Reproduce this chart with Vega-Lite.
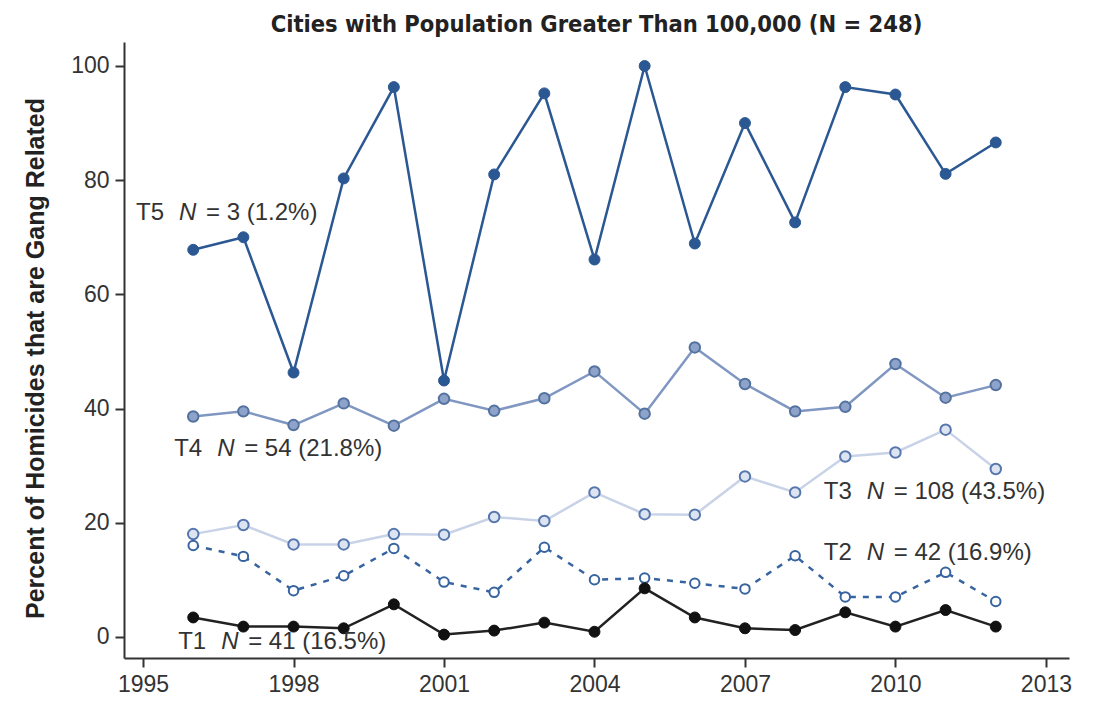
{
  "$schema": "https://vega.github.io/schema/vega-lite/v6.json",
  "width": 945,
  "height": 616,
  "autosize": {"type": "none"},
  "padding": {"left": 124, "top": 42, "right": 35, "bottom": 43},
  "background": "white",
  "config": {
    "view": {"stroke": null},
    "font": "Liberation Sans",
    "axis": {"grid": false}
  },
  "title": {
    "text": "Cities with Population Greater Than 100,000 (N = 248)",
    "font": "DejaVu Sans Condensed, Liberation Sans",
    "fontWeight": "bold",
    "fontSize": 23.5,
    "color": "#222222",
    "anchor": "middle",
    "offset": 6
  },
  "datasets": {
    "series": [
      {"tier": "T5", "year": 1996, "pct": 67.8}, {"tier": "T5", "year": 1997, "pct": 70.0}, {"tier": "T5", "year": 1998, "pct": 46.3}, {"tier": "T5", "year": 1999, "pct": 80.3}, {"tier": "T5", "year": 2000, "pct": 96.3}, {"tier": "T5", "year": 2001, "pct": 44.9}, {"tier": "T5", "year": 2002, "pct": 81.0}, {"tier": "T5", "year": 2003, "pct": 95.2}, {"tier": "T5", "year": 2004, "pct": 66.1}, {"tier": "T5", "year": 2005, "pct": 100.0}, {"tier": "T5", "year": 2006, "pct": 68.9}, {"tier": "T5", "year": 2007, "pct": 90.0}, {"tier": "T5", "year": 2008, "pct": 72.6}, {"tier": "T5", "year": 2009, "pct": 96.3}, {"tier": "T5", "year": 2010, "pct": 95.0}, {"tier": "T5", "year": 2011, "pct": 81.1}, {"tier": "T5", "year": 2012, "pct": 86.6},
      {"tier": "T4", "year": 1996, "pct": 38.6}, {"tier": "T4", "year": 1997, "pct": 39.5}, {"tier": "T4", "year": 1998, "pct": 37.1}, {"tier": "T4", "year": 1999, "pct": 40.9}, {"tier": "T4", "year": 2000, "pct": 37.0}, {"tier": "T4", "year": 2001, "pct": 41.7}, {"tier": "T4", "year": 2002, "pct": 39.6}, {"tier": "T4", "year": 2003, "pct": 41.8}, {"tier": "T4", "year": 2004, "pct": 46.5}, {"tier": "T4", "year": 2005, "pct": 39.1}, {"tier": "T4", "year": 2006, "pct": 50.7}, {"tier": "T4", "year": 2007, "pct": 44.3}, {"tier": "T4", "year": 2008, "pct": 39.5}, {"tier": "T4", "year": 2009, "pct": 40.3}, {"tier": "T4", "year": 2010, "pct": 47.8}, {"tier": "T4", "year": 2011, "pct": 41.9}, {"tier": "T4", "year": 2012, "pct": 44.1},
      {"tier": "T3", "year": 1996, "pct": 18.0}, {"tier": "T3", "year": 1997, "pct": 19.6}, {"tier": "T3", "year": 1998, "pct": 16.2}, {"tier": "T3", "year": 1999, "pct": 16.2}, {"tier": "T3", "year": 2000, "pct": 18.0}, {"tier": "T3", "year": 2001, "pct": 17.9}, {"tier": "T3", "year": 2002, "pct": 21.0}, {"tier": "T3", "year": 2003, "pct": 20.3}, {"tier": "T3", "year": 2004, "pct": 25.3}, {"tier": "T3", "year": 2005, "pct": 21.5}, {"tier": "T3", "year": 2006, "pct": 21.4}, {"tier": "T3", "year": 2007, "pct": 28.1}, {"tier": "T3", "year": 2008, "pct": 25.3}, {"tier": "T3", "year": 2009, "pct": 31.6}, {"tier": "T3", "year": 2010, "pct": 32.3}, {"tier": "T3", "year": 2011, "pct": 36.3}, {"tier": "T3", "year": 2012, "pct": 29.4},
      {"tier": "T2", "year": 1996, "pct": 16.0}, {"tier": "T2", "year": 1997, "pct": 14.1}, {"tier": "T2", "year": 1998, "pct": 8.1}, {"tier": "T2", "year": 1999, "pct": 10.7}, {"tier": "T2", "year": 2000, "pct": 15.5}, {"tier": "T2", "year": 2001, "pct": 9.6}, {"tier": "T2", "year": 2002, "pct": 7.8}, {"tier": "T2", "year": 2003, "pct": 15.7}, {"tier": "T2", "year": 2004, "pct": 10.0}, {"tier": "T2", "year": 2005, "pct": 10.3}, {"tier": "T2", "year": 2006, "pct": 9.4}, {"tier": "T2", "year": 2007, "pct": 8.4}, {"tier": "T2", "year": 2008, "pct": 14.2}, {"tier": "T2", "year": 2009, "pct": 7.0}, {"tier": "T2", "year": 2010, "pct": 7.0}, {"tier": "T2", "year": 2011, "pct": 11.3}, {"tier": "T2", "year": 2012, "pct": 6.2},
      {"tier": "T1", "year": 1996, "pct": 3.4}, {"tier": "T1", "year": 1997, "pct": 1.8}, {"tier": "T1", "year": 1998, "pct": 1.8}, {"tier": "T1", "year": 1999, "pct": 1.5}, {"tier": "T1", "year": 2000, "pct": 5.7}, {"tier": "T1", "year": 2001, "pct": 0.4}, {"tier": "T1", "year": 2002, "pct": 1.1}, {"tier": "T1", "year": 2003, "pct": 2.5}, {"tier": "T1", "year": 2004, "pct": 0.9}, {"tier": "T1", "year": 2005, "pct": 8.5}, {"tier": "T1", "year": 2006, "pct": 3.4}, {"tier": "T1", "year": 2007, "pct": 1.5}, {"tier": "T1", "year": 2008, "pct": 1.2}, {"tier": "T1", "year": 2009, "pct": 4.3}, {"tier": "T1", "year": 2010, "pct": 1.8}, {"tier": "T1", "year": 2011, "pct": 4.7}, {"tier": "T1", "year": 2012, "pct": 1.8}
    ],
    "labels": [
      {"tier": "T5", "x": 1994.86, "y": 74.3, "rest": "= 3 (1.2%)"},
      {"tier": "T4", "x": 1995.62, "y": 32.9, "rest": "= 54 (21.8%)"},
      {"tier": "T3", "x": 2008.57, "y": 25.4, "rest": "= 108 (43.5%)"},
      {"tier": "T2", "x": 2008.57, "y": 14.7, "rest": "= 42 (16.9%)"},
      {"tier": "T1", "x": 1995.70, "y": -0.9, "rest": "= 41 (16.5%)"}
    ]
  },
  "encoding": {
    "x": {
      "field": "year", "type": "quantitative",
      "scale": {"domain": [1994.62, 2013.46], "nice": false, "zero": false},
      "axis": {
        "title": null, "values": [1995, 1998, 2001, 2004, 2007, 2010, 2013], "format": "d",
        "domainColor": "#333333", "domainWidth": 2, "tickColor": "#333333", "tickWidth": 2, "tickSize": 9,
        "labelFontSize": 23, "labelColor": "#333333", "labelPadding": 6, "labelFont": "Liberation Sans"
      }
    },
    "y": {
      "field": "pct", "type": "quantitative",
      "scale": {"domain": [-3.7, 104.2], "nice": false, "zero": false},
      "axis": {
        "title": "Percent of Homicides that are Gang Related",
        "titleFont": "Liberation Sans", "titleFontWeight": "bold", "titleFontSize": 25, "titleColor": "#222222",
        "titleAngle": -90, "titleBaseline": "middle", "titleAlign": "center", "titleX": -89, "titleY": 316,
        "values": [0, 20, 40, 60, 80, 100],
        "domainColor": "#333333", "domainWidth": 2, "tickColor": "#333333", "tickWidth": 2, "tickSize": 9,
        "labelFontSize": 23, "labelColor": "#333333", "labelPadding": 6, "labelFont": "Liberation Sans"
      }
    }
  },
  "layer": [
    {"data": {"name": "series"}, "transform": [{"filter": "datum.tier == 'T3'"}],
     "mark": {"type": "line", "color": "#c9d3e7", "strokeWidth": 2.5}},
    {"data": {"name": "series"}, "transform": [{"filter": "datum.tier == 'T3'"}],
     "mark": {"type": "point", "shape": "circle", "filled": true, "fill": "#dde4f1", "stroke": "#5677ad", "strokeWidth": 2, "size": 110, "opacity": 1}},
    {"data": {"name": "series"}, "transform": [{"filter": "datum.tier == 'T4'"}],
     "mark": {"type": "line", "color": "#8097c2", "strokeWidth": 2.5}},
    {"data": {"name": "series"}, "transform": [{"filter": "datum.tier == 'T4'"}],
     "mark": {"type": "point", "shape": "circle", "filled": true, "fill": "#8ea3c9", "stroke": "#54729f", "strokeWidth": 2, "size": 110, "opacity": 1}},
    {"data": {"name": "series"}, "transform": [{"filter": "datum.tier == 'T5'"}],
     "mark": {"type": "line", "color": "#2b5892", "strokeWidth": 2.5}},
    {"data": {"name": "series"}, "transform": [{"filter": "datum.tier == 'T5'"}],
     "mark": {"type": "point", "shape": "circle", "filled": true, "fill": "#2b5892", "stroke": "#2b5892", "strokeWidth": 1, "size": 120, "opacity": 1}},
    {"data": {"name": "series"}, "transform": [{"filter": "datum.tier == 'T2'"}],
     "mark": {"type": "line", "color": "#3764a0", "strokeWidth": 2.5, "strokeDash": [6, 7]}},
    {"data": {"name": "series"}, "transform": [{"filter": "datum.tier == 'T2'"}],
     "mark": {"type": "point", "shape": "circle", "filled": true, "fill": "white", "stroke": "#3764a0", "strokeWidth": 2, "size": 90, "opacity": 1}},
    {"data": {"name": "series"}, "transform": [{"filter": "datum.tier == 'T1'"}],
     "mark": {"type": "line", "color": "#222222", "strokeWidth": 2.5}},
    {"data": {"name": "series"}, "transform": [{"filter": "datum.tier == 'T1'"}],
     "mark": {"type": "point", "shape": "circle", "filled": true, "fill": "#111111", "stroke": "#111111", "strokeWidth": 1, "size": 120, "opacity": 1}},
    {"data": {"name": "labels"},
     "mark": {"type": "text", "align": "left", "baseline": "middle", "fontSize": 24, "color": "#333333", "font": "Liberation Sans"},
     "encoding": {"x": {"field": "x", "type": "quantitative"}, "y": {"field": "y", "type": "quantitative"}, "text": {"field": "tier"}}},
    {"data": {"name": "labels"},
     "mark": {"type": "text", "align": "left", "baseline": "middle", "fontSize": 24, "fontStyle": "italic", "color": "#333333", "font": "Liberation Sans", "dx": 43, "text": "N"},
     "encoding": {"x": {"field": "x", "type": "quantitative"}, "y": {"field": "y", "type": "quantitative"}}},
    {"data": {"name": "labels"},
     "mark": {"type": "text", "align": "left", "baseline": "middle", "fontSize": 24, "color": "#333333", "font": "Liberation Sans", "dx": 70},
     "encoding": {"x": {"field": "x", "type": "quantitative"}, "y": {"field": "y", "type": "quantitative"}, "text": {"field": "rest"}}}
  ]
}
